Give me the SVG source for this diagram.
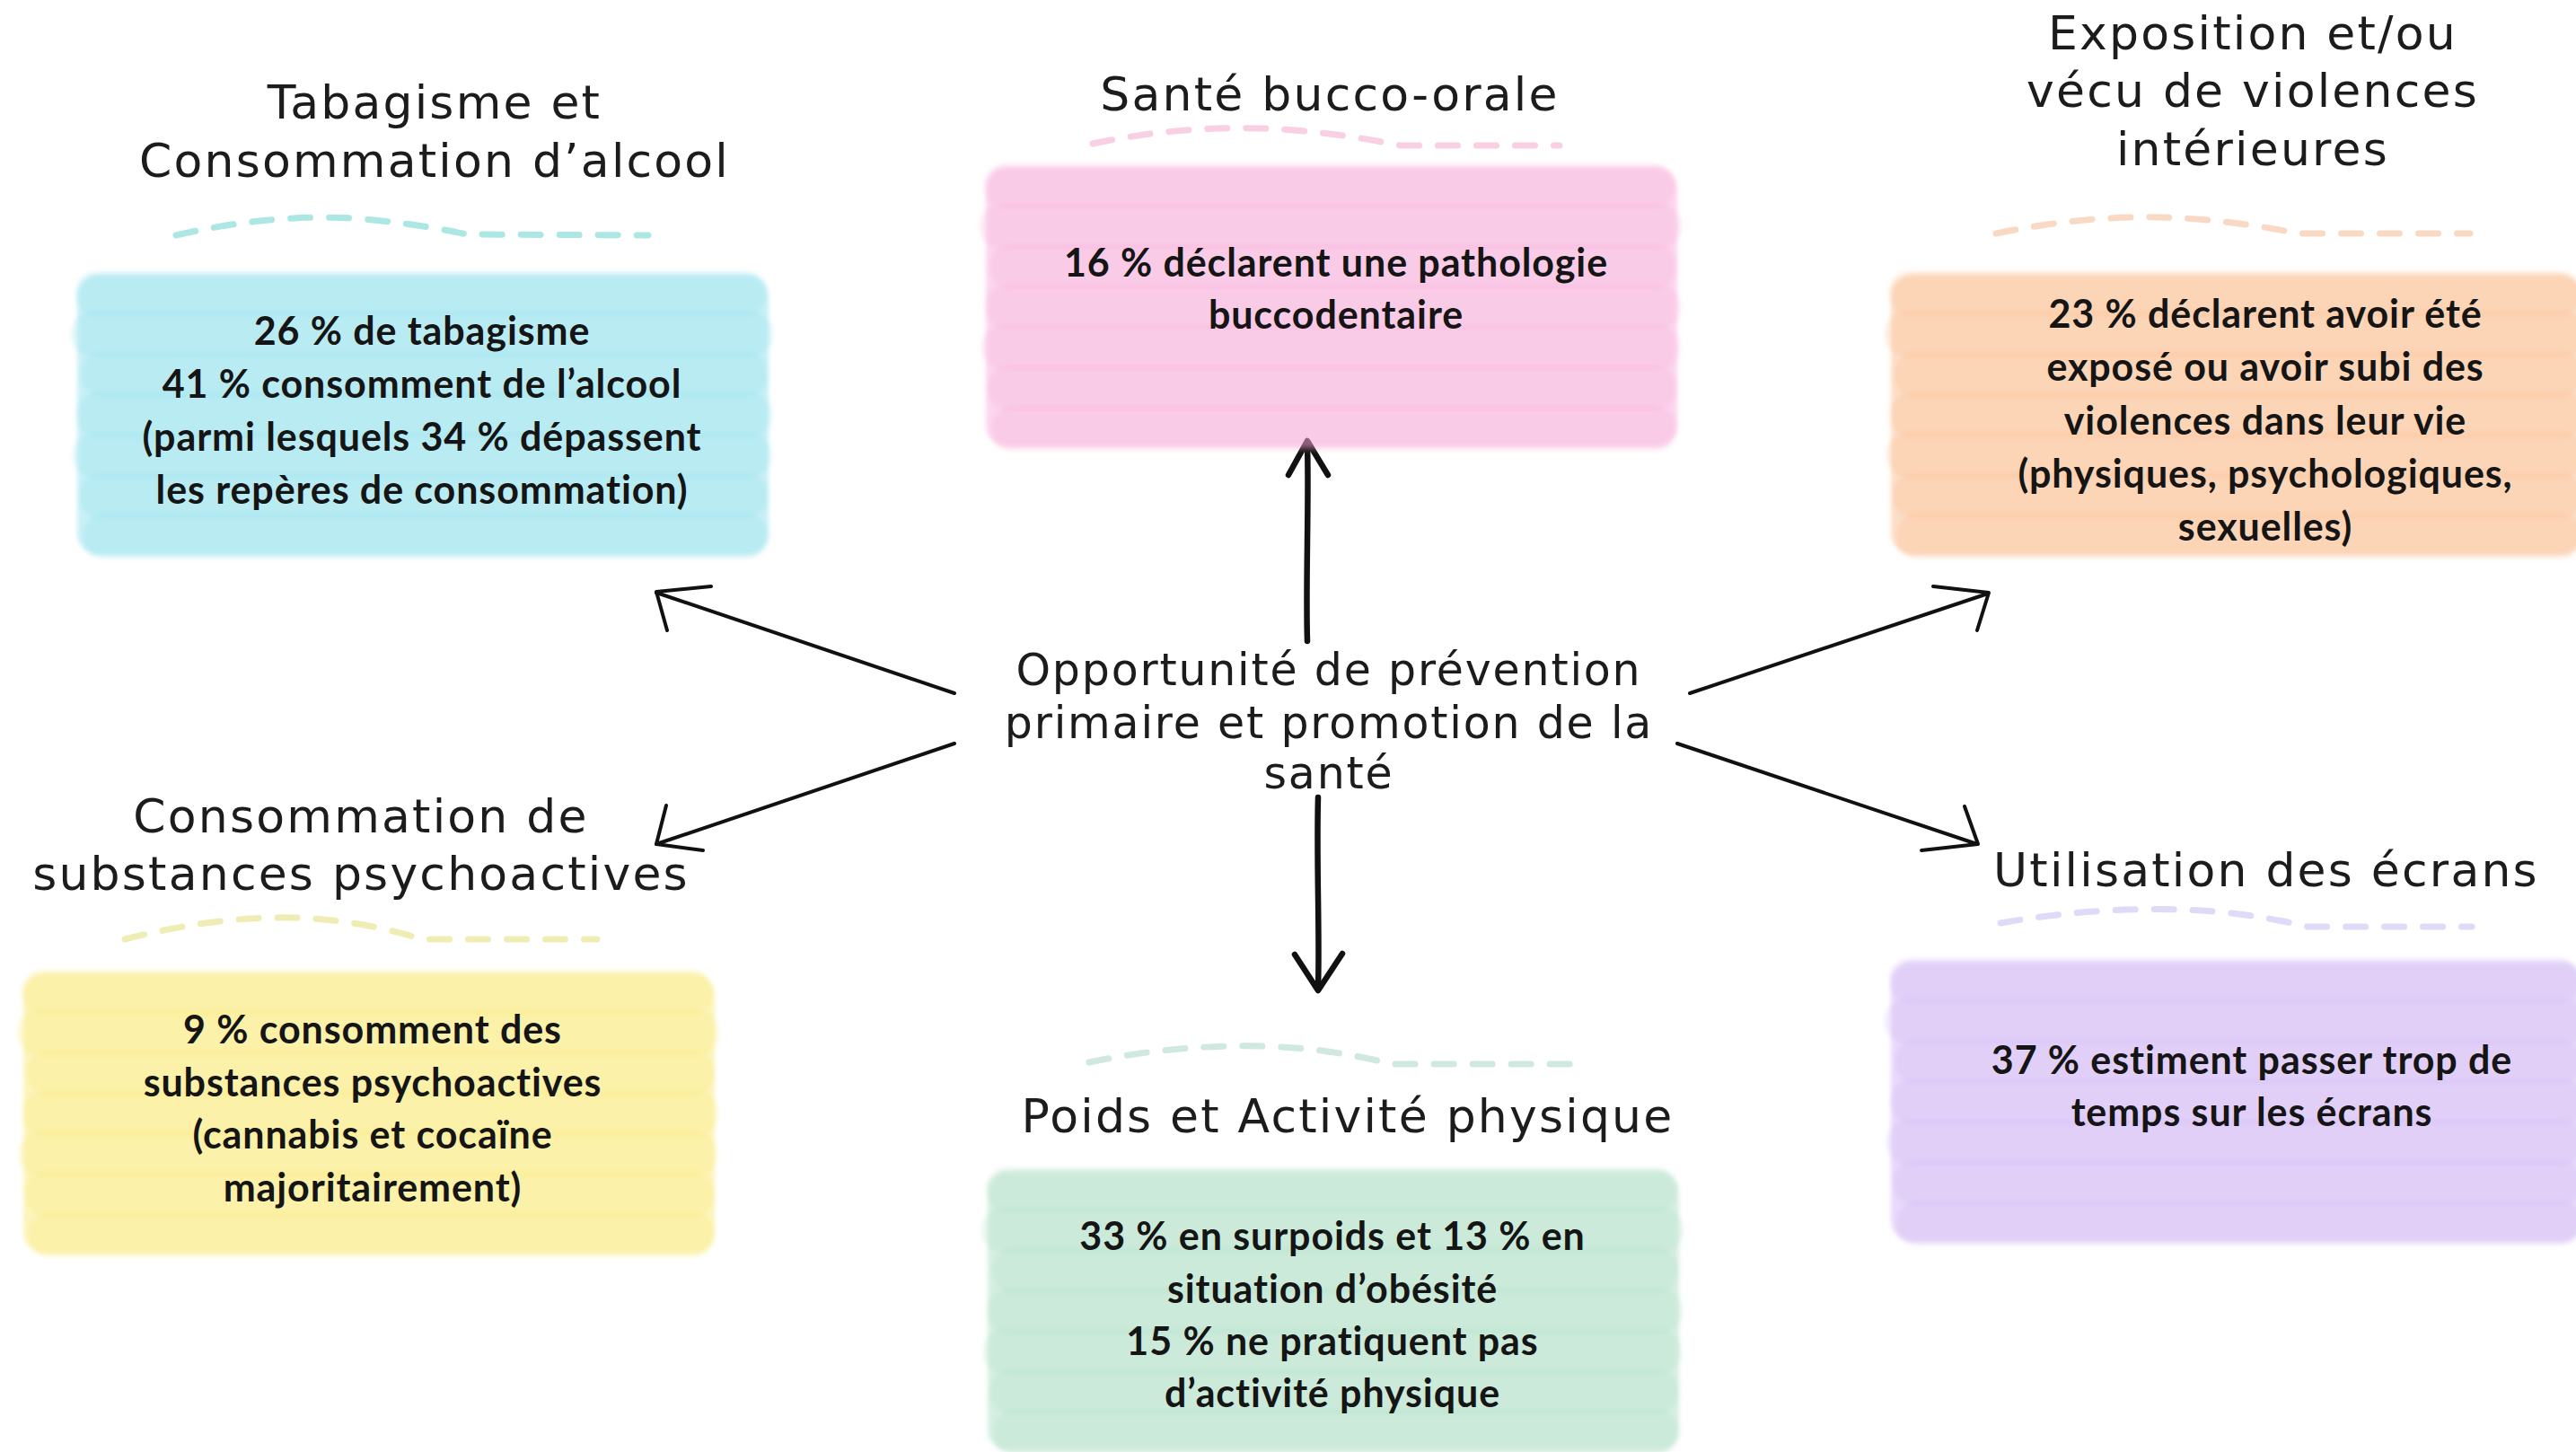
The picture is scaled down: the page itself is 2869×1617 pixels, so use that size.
<svg xmlns="http://www.w3.org/2000/svg" xmlns:xlink="http://www.w3.org/1999/xlink" width="2869" height="1617" viewBox="0 0 2869 1617">
<style>
.title{font-family:"DejaVu Sans","Liberation Sans",sans-serif;font-size:52px;letter-spacing:2.2px;fill:#1c1c1c;text-anchor:middle}
.center{font-family:"DejaVu Sans","Liberation Sans",sans-serif;font-size:49px;letter-spacing:1.8px;fill:#1c1c1c;text-anchor:middle}
.body{font-family:Lato,"Liberation Sans",sans-serif;font-weight:700;font-size:43px;letter-spacing:0.9px;fill:#151515;text-anchor:middle}
.dash{fill:none;stroke-width:7;stroke-dasharray:22 21;stroke-linecap:round;opacity:.5}
.arrow{fill:none;stroke:#111;stroke-linecap:round;stroke-linejoin:round}
.thick{stroke-width:6.5}
.thin{stroke-width:4}
</style>
<defs>
<filter id="soft" x="-5%" y="-10%" width="110%" height="120%"><feGaussianBlur stdDeviation="2.4"/></filter>
<g id="brush">
<rect x="2" y="4" width="770" height="312" rx="24" fill-opacity="0.42"/>
<g fill-opacity="0.22">
<rect x="0" y="0" width="770" height="50" rx="24"/>
<rect x="-5" y="45" width="782" height="50" rx="24"/>
<rect x="6" y="90" width="766" height="50" rx="24"/>
<rect x="1" y="135" width="775" height="50" rx="24"/>
<rect x="-3" y="180" width="778" height="50" rx="24"/>
<rect x="4" y="225" width="768" height="50" rx="24"/>
<rect x="8" y="270" width="764" height="50" rx="24"/>
</g>
</g>
</defs>
<rect width="2869" height="1617" fill="#ffffff"/>

<g id="connectors">
<g id="arrow-up"><path class="arrow thick" d="M1456,714 C1454,650 1458,560 1456,494"/><path class="arrow thick" d="M1435,529 L1456,491 L1479,529"/></g>
<g id="arrow-down"><path class="arrow thick" d="M1468,888 C1466,960 1470,1040 1468,1101"/><path class="arrow thick" d="M1442,1063 L1468,1103 L1495,1062"/></g>
<g id="arrow-ul"><path class="arrow thin" d="M1063,772 L731,660"/><path class="arrow thin" d="M743,702 L731,659 L792,653"/></g>
<g id="arrow-ll"><path class="arrow thin" d="M1063,828 L731,940"/><path class="arrow thin" d="M742,897 L731,940 L783,947"/></g>
<g id="arrow-ur"><path class="arrow thin" d="M1882,772 L2214,661"/><path class="arrow thin" d="M2153,653 L2215,660 L2202,702"/></g>
<g id="arrow-lr"><path class="arrow thin" d="M1868,828 L2202,940"/><path class="arrow thin" d="M2188,898 L2203,940 L2140,947"/></g>
</g>

<g id="node-tabac">
<text class="title" x="484" y="132">Tabagisme et</text>
<text class="title" x="484" y="197">Consommation d’alcool</text>
<path class="dash" stroke="#5ccfc9" d="M196,262 Q300,238 392,243 Q460,248 520,261 L722,262"/>
<use href="#brush" x="84" y="302" fill="#7fdcea" filter="url(#soft)"/>
<text class="body" x="470" y="384">26 % de tabagisme</text>
<text class="body" x="470" y="443">41 % consomment de l’alcool</text>
<text class="body" x="470" y="502">(parmi lesquels 34 % dépassent</text>
<text class="body" x="470" y="561">les repères de consommation)</text>
</g>

<g id="node-bucco">
<text class="title" x="1481" y="123">Santé bucco-orale</text>
<path class="dash" stroke="#f2a0c8" d="M1217,160 Q1310,140 1408,143 Q1480,146 1560,162 L1737,162"/>
<use href="#brush" x="1096" y="182" fill="#f5a0d3" filter="url(#soft)"/>
<text class="body" x="1488" y="308">16 % déclarent une pathologie</text>
<text class="body" x="1488" y="366">buccodentaire</text>
</g>

<g id="node-violences">
<text class="title" x="2509" y="55">Exposition et/ou</text>
<text class="title" x="2509" y="119">vécu de violences</text>
<text class="title" x="2509" y="184">intérieures</text>
<path class="dash" stroke="#f5b48a" d="M2223,260 Q2320,240 2407,242 Q2480,244 2560,260 L2751,260"/>
<use href="#brush" x="2104" y="302" fill="#f9b07a" filter="url(#soft)"/>
<text class="body" x="2523" y="365">23 % déclarent avoir été</text>
<text class="body" x="2523" y="424">exposé ou avoir subi des</text>
<text class="body" x="2523" y="484">violences dans leur vie</text>
<text class="body" x="2523" y="543">(physiques, psychologiques,</text>
<text class="body" x="2523" y="602">sexuelles)</text>
</g>

<g id="node-substances">
<text class="title" x="402" y="927">Consommation de</text>
<text class="title" x="402" y="991">substances psychoactives</text>
<path class="dash" stroke="#e2dc6a" d="M139,1046 Q240,1020 327,1022 Q400,1024 470,1046 L665,1046"/>
<use href="#brush" x="24" y="1080" fill="#f7e460" filter="url(#soft)"/>
<text class="body" x="415" y="1162">9 % consomment des</text>
<text class="body" x="415" y="1221">substances psychoactives</text>
<text class="body" x="415" y="1279">(cannabis et cocaïne</text>
<text class="body" x="415" y="1338">majoritairement)</text>
</g>

<g id="node-poids">
<path class="dash" stroke="#9fd3bd" d="M1213,1183 Q1310,1163 1404,1165 Q1480,1167 1550,1185 L1758,1185"/>
<text class="title" x="1501" y="1261">Poids et Activité physique</text>
<use href="#brush" x="1098" y="1300" fill="#9fd8bc" filter="url(#soft)"/>
<text class="body" x="1484" y="1392">33 % en surpoids et 13 % en</text>
<text class="body" x="1484" y="1451">situation d’obésité</text>
<text class="body" x="1484" y="1509">15 % ne pratiquent pas</text>
<text class="body" x="1484" y="1567">d’activité physique</text>
</g>

<g id="node-ecrans">
<text class="title" x="2524" y="987">Utilisation des écrans</text>
<path class="dash" stroke="#c2b4ef" d="M2228,1028 Q2330,1010 2428,1013 Q2500,1015 2570,1032 L2753,1032"/>
<use href="#brush" x="2104" y="1067" fill="#c9a8f2" filter="url(#soft)"/>
<text class="body" x="2508" y="1196">37 % estiment passer trop de</text>
<text class="body" x="2508" y="1254">temps sur les écrans</text>
</g>

<g id="node-center">
<text class="center" x="1480" y="763">Opportunité de prévention</text>
<text class="center" x="1480" y="822">primaire et promotion de la</text>
<text class="center" x="1480" y="878">santé</text>
</g>
</svg>
